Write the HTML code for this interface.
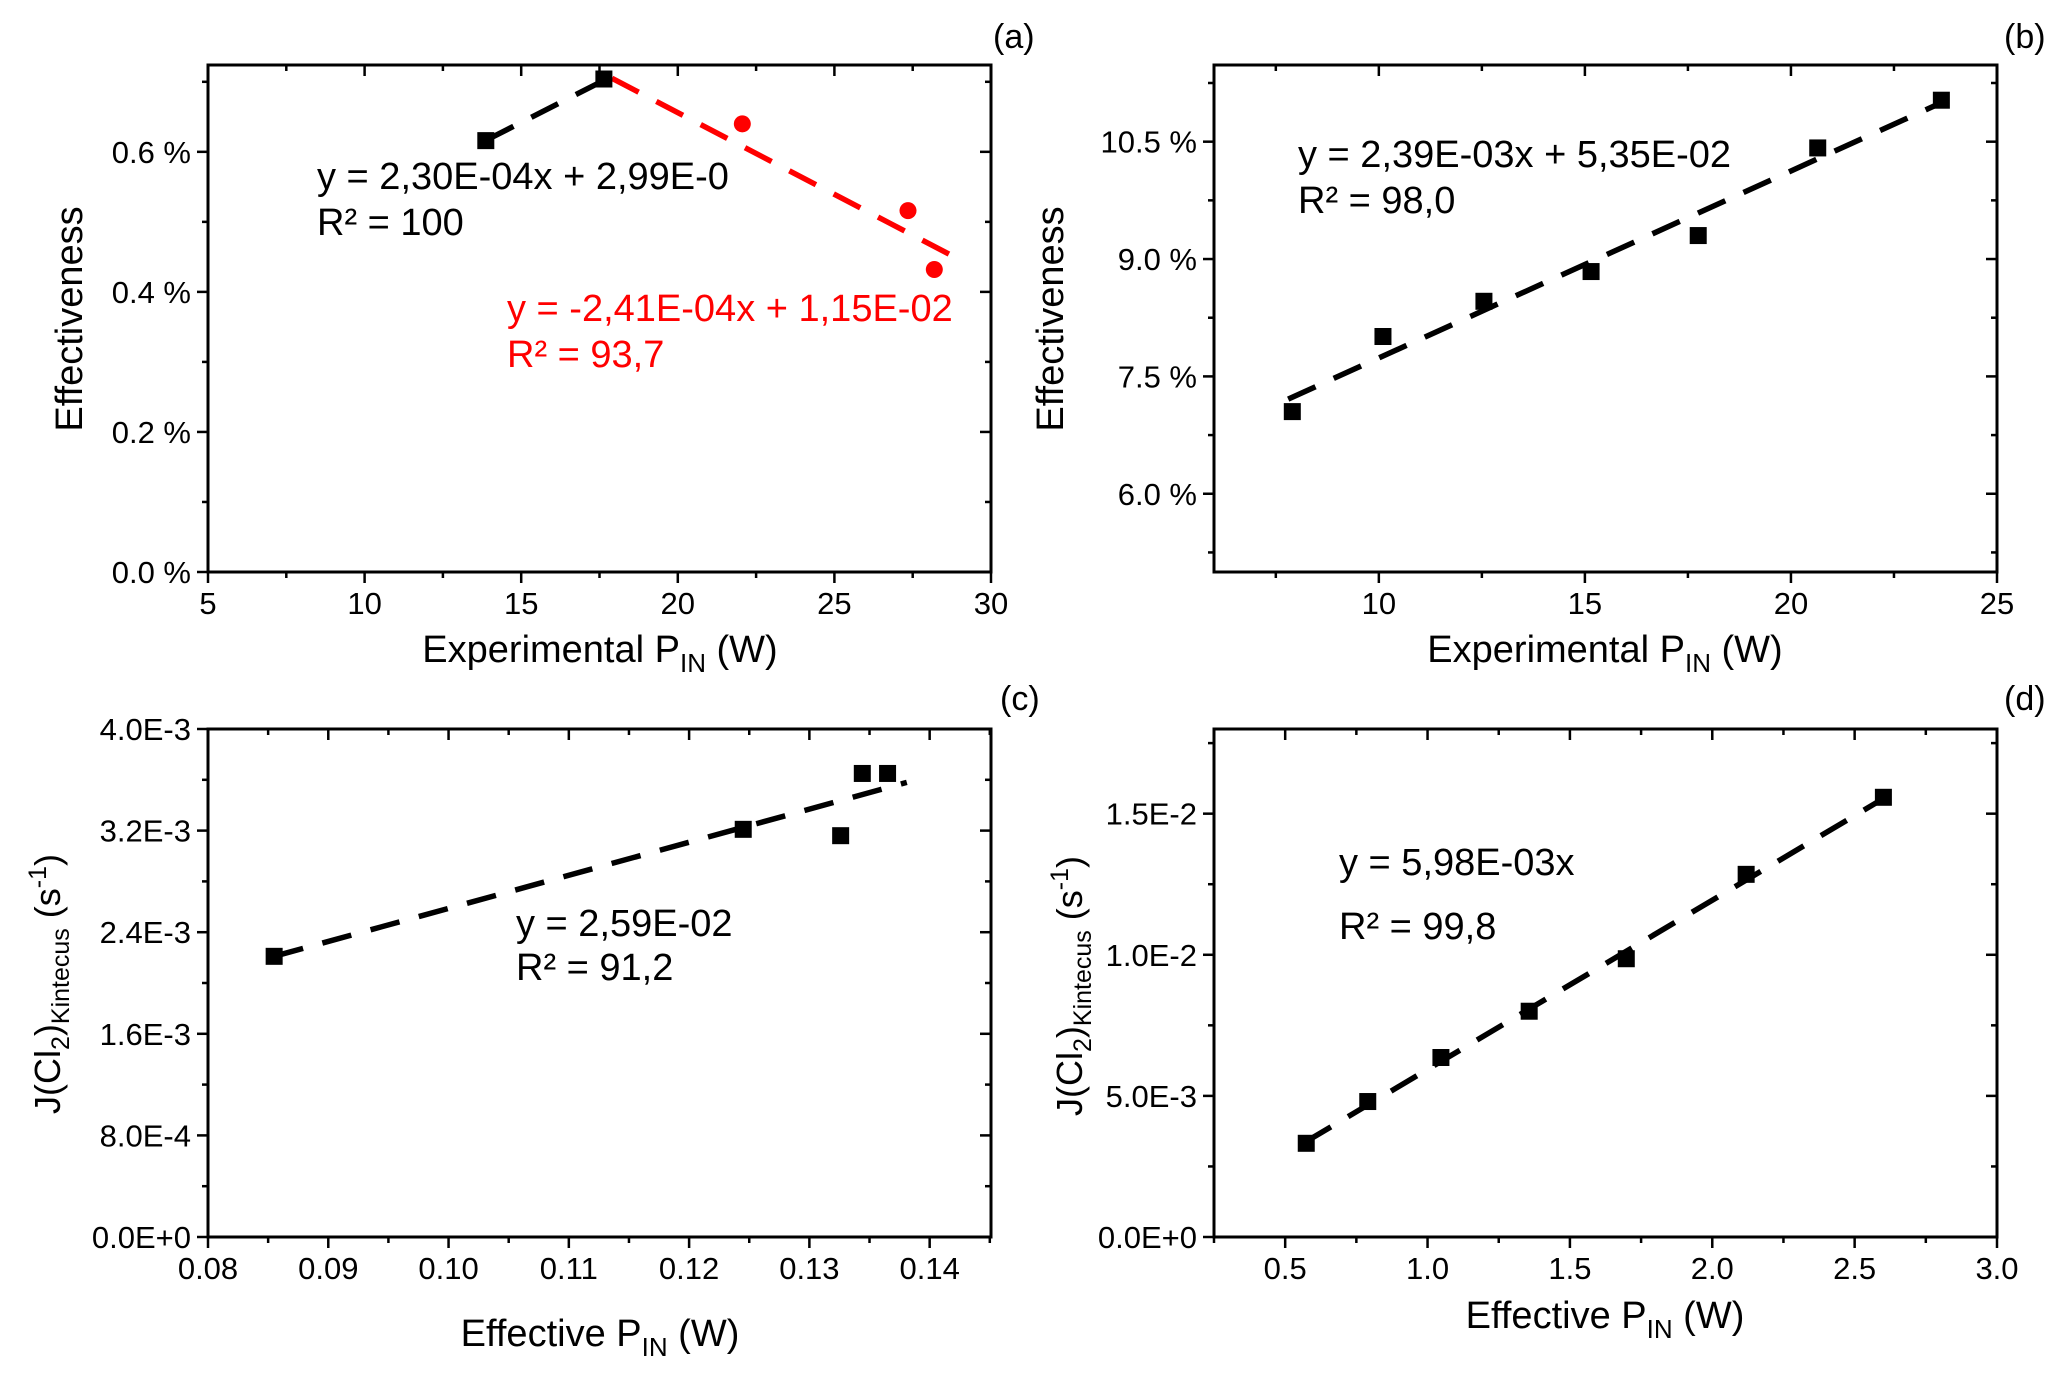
<!DOCTYPE html>
<html><head><meta charset="utf-8">
<style>
html,body{margin:0;padding:0;background:#fff;}
svg{display:block;font-family:"Liberation Sans",Arial,sans-serif;}
</style></head>
<body>
<svg id="fig" width="2067" height="1379" viewBox="0 0 2067 1379" xmlns="http://www.w3.org/2000/svg">
<rect width="2067" height="1379" fill="#fff"/>
<text x="993" y="48" font-size="34">(a)</text>
<text x="2004" y="48" font-size="34">(b)</text>
<text x="1000" y="710" font-size="34">(c)</text>
<text x="2004" y="710" font-size="34">(d)</text>

<text transform="translate(82,319) rotate(-90)" text-anchor="middle" font-size="38">Effectiveness</text>
<text x="600" y="662" text-anchor="middle" font-size="38">Experimental P<tspan font-size="26" dy="10">IN</tspan><tspan dy="-10"> (W)</tspan></text>
<text transform="translate(1063,319) rotate(-90)" text-anchor="middle" font-size="38">Effectiveness</text>
<text x="1605" y="662" text-anchor="middle" font-size="38">Experimental P<tspan font-size="26" dy="10">IN</tspan><tspan dy="-10"> (W)</tspan></text>
<text transform="translate(60,984) rotate(-90)" text-anchor="middle" font-size="36">J(Cl<tspan font-size="25" dy="9">2</tspan><tspan dy="-9">)</tspan><tspan font-size="25" dy="9">Kintecus</tspan><tspan dy="-9"> (s</tspan><tspan font-size="25" dy="-14">-1</tspan><tspan dy="14">)</tspan></text>
<text x="600" y="1346" text-anchor="middle" font-size="38">Effective P<tspan font-size="26" dy="10">IN</tspan><tspan dy="-10"> (W)</tspan></text>
<text transform="translate(1082,986) rotate(-90)" text-anchor="middle" font-size="36">J(Cl<tspan font-size="25" dy="9">2</tspan><tspan dy="-9">)</tspan><tspan font-size="25" dy="9">Kintecus</tspan><tspan dy="-9"> (s</tspan><tspan font-size="25" dy="-14">-1</tspan><tspan dy="14">)</tspan></text>
<text x="1605" y="1328" text-anchor="middle" font-size="38">Effective P<tspan font-size="26" dy="10">IN</tspan><tspan dy="-10"> (W)</tspan></text>

<text x="317" y="189" font-size="38">y = 2,30E-04x + 2,99E-0</text>
<text x="317" y="235" font-size="38">R² = 100</text>
<text x="507" y="321" font-size="38" fill="#f00">y = -2,41E-04x + 1,15E-02</text>
<text x="507" y="367" font-size="38" fill="#f00">R² = 93,7</text>
<text x="1298" y="167" font-size="38">y = 2,39E-03x + 5,35E-02</text>
<text x="1298" y="213" font-size="38">R² = 98,0</text>
<text x="516" y="936" font-size="38">y = 2,59E-02</text>
<text x="516" y="980" font-size="38">R² = 91,2</text>
<text x="1339" y="875" font-size="38">y = 5,98E-03x</text>
<text x="1339" y="939" font-size="38">R² = 99,8</text>
</svg>
<script>
// Panel (a)
const aBlackX = [13.87, 17.64];
const aBlackY = [0.616, 0.704];
const aRedX = [22.06, 27.35, 28.19];
const aRedY = [0.640, 0.516, 0.432];
const aBlackFitX = [13.9, 17.55];
const aBlackFitY = [0.617, 0.700];
const aRedFitX = [17.9, 28.7];
const aRedFitY = [0.705, 0.453];
const aXTicks = [5, 10, 15, 20, 25, 30];
const aYTicks = [0, 0.2, 0.4, 0.6];
const aYTickLabels = ["0.0 %", "0.2 %", "0.4 %", "0.6 %"];
// Panel (b)
const bX = [7.9, 10.1, 12.55, 15.15, 17.75, 20.65, 23.65];
const bY = [7.05, 8.01, 8.46, 8.84, 9.30, 10.42, 11.03];
const bFitX = [7.8, 23.7];
const bFitY = [7.21, 11.01];
const bXTicks = [10, 15, 20, 25];
const bYTicks = [6.0, 7.5, 9.0, 10.5];
const bYTickLabels = ["6.0 %", "7.5 %", "9.0 %", "10.5 %"];
// Panel (c)
const cX = [0.0855, 0.1245, 0.1326, 0.1344, 0.1365];
const cY = [2.21e-3, 3.21e-3, 3.16e-3, 3.65e-3, 3.65e-3];
const cFitX = [0.0855, 0.1381];
const cFitY = [2.21e-3, 3.58e-3];
const cXTicks = [0.08, 0.09, 0.10, 0.11, 0.12, 0.13, 0.14];
const cXTickLabels = ["0.08", "0.09", "0.10", "0.11", "0.12", "0.13", "0.14"];
const cYTicks = [0, 8e-4, 1.6e-3, 2.4e-3, 3.2e-3, 4.0e-3];
const cYTickLabels = ["0.0E+0", "8.0E-4", "1.6E-3", "2.4E-3", "3.2E-3", "4.0E-3"];
// Panel (d)
const dX = [0.574, 0.79, 1.047, 1.357, 1.698, 2.119, 2.601];
const dY = [0.332e-2, 0.48e-2, 0.636e-2, 0.80e-2, 0.986e-2, 1.285e-2, 1.558e-2];
const dFitX = [0.57, 2.62];
const dFitY = [0.336e-2, 1.565e-2];
const dXTicks = [0.5, 1.0, 1.5, 2.0, 2.5, 3.0];
const dXTickLabels = ["0.5", "1.0", "1.5", "2.0", "2.5", "3.0"];
const dYTicks = [0, 0.5e-2, 1.0e-2, 1.5e-2];
const dYTickLabels = ["0.0E+0", "5.0E-3", "1.0E-2", "1.5E-2"];

const NS = "http://www.w3.org/2000/svg";
const svg = document.getElementById("fig");
function mk(tag, attrs, parent) {
  const e = document.createElementNS(NS, tag);
  for (const k in attrs) e.setAttribute(k, attrs[k]);
  (parent || svg).appendChild(e);
  return e;
}
function panel(id, box, xr, yr, xTicks, xLabels, xMinor, yTicks, yLabels, yMinor) {
  const g = mk("g", {});
  
  
  const sx = v => box.l + (v - xr[0]) / (xr[1] - xr[0]) * (box.r - box.l);
  const sy = v => box.b - (v - yr[0]) / (yr[1] - yr[0]) * (box.b - box.t);
  const frame = mk("rect", {x: box.l, y: box.t, width: box.r - box.l, height: box.b - box.t, fill: "none", stroke: "#000", "stroke-width": 3}, g);
  
  
  for (let v = xMinor[0]; v <= xr[1] + 1e-9; v += xMinor[1]) {
    const x = sx(v);
    if (x < box.l - 0.5 || x > box.r + 0.5) continue;
    const major = xTicks.some(t => Math.abs(t - v) < xMinor[1] / 10);
    const L = major ? 11 : 6;
    mk("line", {x1: x, x2: x, y1: box.b, y2: box.b + L, stroke: "#000", "stroke-width": 2.5}, g);
    mk("line", {x1: x, x2: x, y1: box.t, y2: box.t + L, stroke: "#000", "stroke-width": 2.5}, g);
  }
  xTicks.forEach((v, i) => {
    const t = mk("text", {x: sx(v), y: box.b + 42, "text-anchor": "middle", "font-size": 31}, g);
    
    
    t.textContent = xLabels[i];
  });
  for (let v = yMinor[0]; v <= yr[1] + 1e-12; v += yMinor[1]) {
    const y = sy(v);
    if (y < box.t - 0.5 || y > box.b + 0.5) continue;
    const major = yTicks.some(t => Math.abs(t - v) < yMinor[1] / 10);
    const L = major ? 11 : 6;
    mk("line", {x1: box.l - L, x2: box.l, y1: y, y2: y, stroke: "#000", "stroke-width": 2.5}, g);
    mk("line", {x1: box.r - L, x2: box.r, y1: y, y2: y, stroke: "#000", "stroke-width": 2.5}, g);
  }
  yTicks.forEach((v, i) => {
    const t = mk("text", {x: box.l - 17, y: sy(v) + 11, "text-anchor": "end", "font-size": 31}, g);
    
    
    t.textContent = yLabels[i];
  });
  return {sx, sy, g};
}
function fit(p, xs, ys, color, name) {
  const l = mk("line", {x1: p.sx(xs[0]), y1: p.sy(ys[0]), x2: p.sx(xs[1]), y2: p.sy(ys[1]), stroke: color, "stroke-width": 5.5, "stroke-dasharray": "30 20"}, p.g);
  
  
}
function squares(p, xs, ys, name) {
  xs.forEach((x, i) => {
    const r = mk("rect", {x: p.sx(x) - 8.5, y: p.sy(ys[i]) - 8.5, width: 17, height: 17, fill: "#000"}, p.g);
    
    
  });
}
function circles(p, xs, ys, name) {
  xs.forEach((x, i) => {
    const c = mk("circle", {cx: p.sx(x), cy: p.sy(ys[i]), r: 8.5, fill: "#f00"}, p.g);
    
    
  });
}
const fmtNum = v => String(v);
const pa = panel("a", {l: 208, r: 991, t: 65, b: 572}, [5, 30], [0, 0.724],
  aXTicks, aXTicks.map(fmtNum), [5, 2.5], aYTicks, aYTickLabels, [0, 0.1]);
fit(pa, aBlackFitX, aBlackFitY, "#000", "a-fit-line-black");
fit(pa, aRedFitX, aRedFitY, "#f00", "a-fit-line-red");
squares(pa, aBlackX, aBlackY, "a-point-black");
circles(pa, aRedX, aRedY, "a-point-red");
const pb = panel("b", {l: 1214, r: 1997, t: 65, b: 572}, [6, 25], [5.0, 11.48],
  bXTicks, bXTicks.map(fmtNum), [7.5, 2.5], bYTicks, bYTickLabels, [5.25, 0.75]);
fit(pb, bFitX, bFitY, "#000", "b-fit-line");
squares(pb, bX, bY, "b-point");
const pc = panel("c", {l: 208, r: 991, t: 729, b: 1237}, [0.08, 0.1451], [0, 4.0e-3],
  cXTicks, cXTickLabels, [0.08, 0.005], cYTicks, cYTickLabels, [0, 4e-4]);
fit(pc, cFitX, cFitY, "#000", "c-fit-line");
squares(pc, cX, cY, "c-point");
const pd = panel("d", {l: 1214, r: 1997, t: 729, b: 1237}, [0.25, 3.0], [0, 1.8e-2],
  dXTicks, dXTickLabels, [0.25, 0.25], dYTicks, dYTickLabels, [0, 0.25e-2]);
fit(pd, dFitX, dFitY, "#000", "d-fit-line");
squares(pd, dX, dY, "d-point");
</script>
</body></html>
